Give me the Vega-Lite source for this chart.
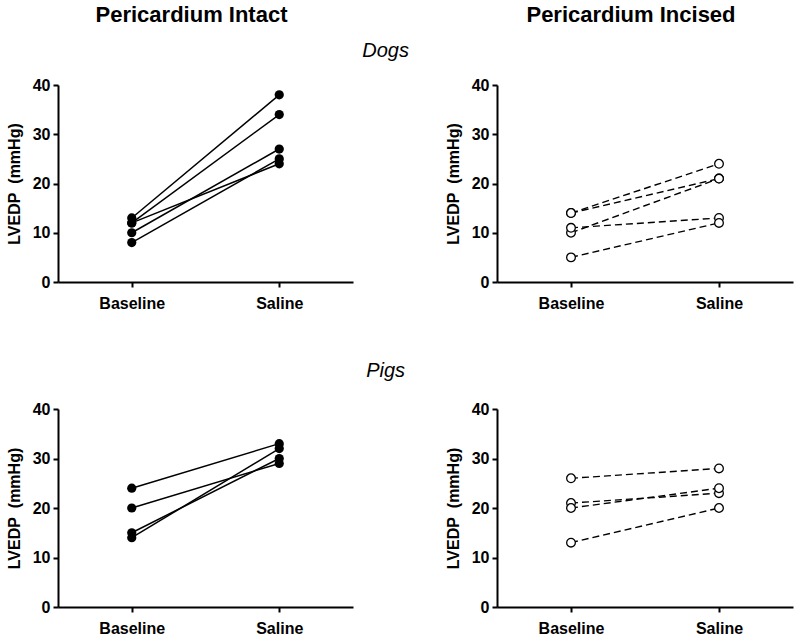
{
  "$schema": "https://vega.github.io/schema/vega-lite/v6.json",
  "padding": {"left": 6, "top": 3, "right": 5, "bottom": 5},
  "background": "white",
  "config": {
    "font": "Liberation Sans",
    "view": {"stroke": null},
    "axis": {
      "domainColor": "black", "domainWidth": 2, "tickColor": "black", "tickWidth": 2, "tickSize": 5,
      "labelFont": "Liberation Sans", "labelFontSize": 16, "labelFontWeight": "bold", "labelColor": "black",
      "titleFont": "Liberation Sans", "titleFontSize": 16, "titleFontWeight": "bold", "titleColor": "black",
      "grid": false
    },
    "axisX": {"labelPadding": 8, "labelAngle": 0, "title": null},
    "axisY": {"labelPadding": 3, "titlePadding": 10},
    "title": {"font": "Liberation Sans", "color": "black"}
  },
  "spacing": 50,
  "vconcat": [
    {
      "title": {"text": "Dogs", "fontStyle": "italic", "fontWeight": "normal", "fontSize": 20, "anchor": "middle", "frame": "bounds", "offset": -57.6, "dx": -14},
      "spacing": 92,
      "hconcat": [
        {
          "title": {"text": "Pericardium Intact", "fontSize": 22, "fontWeight": "bold", "offset": 50.4, "frame": "group", "anchor": "middle", "dx": -14},
          "width": 295, "height": 197,
          "data": {"values": [
            {"subject": "a", "cond": "Baseline", "value": 13}, {"subject": "a", "cond": "Saline", "value": 38},
            {"subject": "b", "cond": "Baseline", "value": 12}, {"subject": "b", "cond": "Saline", "value": 34},
            {"subject": "c", "cond": "Baseline", "value": 12}, {"subject": "c", "cond": "Saline", "value": 24},
            {"subject": "d", "cond": "Baseline", "value": 10}, {"subject": "d", "cond": "Saline", "value": 27},
            {"subject": "e", "cond": "Baseline", "value": 8}, {"subject": "e", "cond": "Saline", "value": 25}
          ]},
          "encoding": {
            "x": {"field": "cond", "type": "nominal", "sort": ["Baseline", "Saline"], "scale": {"type": "point", "padding": 0.5}, "axis": {"title": null}},
            "y": {"field": "value", "type": "quantitative", "scale": {"domain": [0, 40], "nice": false}, "axis": {"title": "LVEDP\u00a0 (mmHg)", "values": [0, 10, 20, 30, 40]}},
            "detail": {"field": "subject"}
          },
          "layer": [
            {"mark": {"type": "line", "color": "black", "strokeWidth": 1.5}},
            {"mark": {"type": "point", "shape": "circle", "filled": true, "color": "black", "size": 85, "opacity": 1}}
          ]
        },
        {
          "title": {"text": "Pericardium Incised", "fontSize": 22, "fontWeight": "bold", "offset": 50.4, "frame": "group", "anchor": "middle", "dx": -14},
          "width": 296, "height": 197,
          "data": {"values": [
            {"subject": "a", "cond": "Baseline", "value": 14}, {"subject": "a", "cond": "Saline", "value": 24},
            {"subject": "b", "cond": "Baseline", "value": 14}, {"subject": "b", "cond": "Saline", "value": 21},
            {"subject": "c", "cond": "Baseline", "value": 10}, {"subject": "c", "cond": "Saline", "value": 21},
            {"subject": "d", "cond": "Baseline", "value": 11}, {"subject": "d", "cond": "Saline", "value": 13},
            {"subject": "e", "cond": "Baseline", "value": 5}, {"subject": "e", "cond": "Saline", "value": 12}
          ]},
          "encoding": {
            "x": {"field": "cond", "type": "nominal", "sort": ["Baseline", "Saline"], "scale": {"type": "point", "padding": 0.5}, "axis": {"title": null}},
            "y": {"field": "value", "type": "quantitative", "scale": {"domain": [0, 40], "nice": false}, "axis": {"title": "LVEDP\u00a0 (mmHg)", "values": [0, 10, 20, 30, 40]}},
            "detail": {"field": "subject"}
          },
          "layer": [
            {"mark": {"type": "line", "color": "black", "strokeWidth": 1.4, "strokeDash": [7, 4]}},
            {"mark": {"type": "point", "shape": "circle", "filled": false, "fill": "white", "stroke": "black", "strokeWidth": 1.3, "size": 75, "opacity": 1}}
          ]
        }
      ]
    },
    {
      "title": {"text": "Pigs", "fontStyle": "italic", "fontWeight": "normal", "fontSize": 20, "anchor": "middle", "frame": "bounds", "offset": 20, "dx": -14},
      "spacing": 92,
      "hconcat": [
        {
          "width": 295, "height": 198,
          "data": {"values": [
            {"subject": "a", "cond": "Baseline", "value": 24}, {"subject": "a", "cond": "Saline", "value": 33},
            {"subject": "b", "cond": "Baseline", "value": 20}, {"subject": "b", "cond": "Saline", "value": 29},
            {"subject": "c", "cond": "Baseline", "value": 15}, {"subject": "c", "cond": "Saline", "value": 30},
            {"subject": "d", "cond": "Baseline", "value": 14}, {"subject": "d", "cond": "Saline", "value": 32}
          ]},
          "encoding": {
            "x": {"field": "cond", "type": "nominal", "sort": ["Baseline", "Saline"], "scale": {"type": "point", "padding": 0.5}, "axis": {"title": null}},
            "y": {"field": "value", "type": "quantitative", "scale": {"domain": [0, 40], "nice": false}, "axis": {"title": "LVEDP\u00a0 (mmHg)", "values": [0, 10, 20, 30, 40]}},
            "detail": {"field": "subject"}
          },
          "layer": [
            {"mark": {"type": "line", "color": "black", "strokeWidth": 1.5}},
            {"mark": {"type": "point", "shape": "circle", "filled": true, "color": "black", "size": 85, "opacity": 1}}
          ]
        },
        {
          "width": 296, "height": 198,
          "data": {"values": [
            {"subject": "a", "cond": "Baseline", "value": 26}, {"subject": "a", "cond": "Saline", "value": 28},
            {"subject": "b", "cond": "Baseline", "value": 21}, {"subject": "b", "cond": "Saline", "value": 23},
            {"subject": "c", "cond": "Baseline", "value": 20}, {"subject": "c", "cond": "Saline", "value": 24},
            {"subject": "d", "cond": "Baseline", "value": 13}, {"subject": "d", "cond": "Saline", "value": 20}
          ]},
          "encoding": {
            "x": {"field": "cond", "type": "nominal", "sort": ["Baseline", "Saline"], "scale": {"type": "point", "padding": 0.5}, "axis": {"title": null}},
            "y": {"field": "value", "type": "quantitative", "scale": {"domain": [0, 40], "nice": false}, "axis": {"title": "LVEDP\u00a0 (mmHg)", "values": [0, 10, 20, 30, 40]}},
            "detail": {"field": "subject"}
          },
          "layer": [
            {"mark": {"type": "line", "color": "black", "strokeWidth": 1.4, "strokeDash": [7, 4]}},
            {"mark": {"type": "point", "shape": "circle", "filled": false, "fill": "white", "stroke": "black", "strokeWidth": 1.3, "size": 75, "opacity": 1}}
          ]
        }
      ]
    }
  ]
}
